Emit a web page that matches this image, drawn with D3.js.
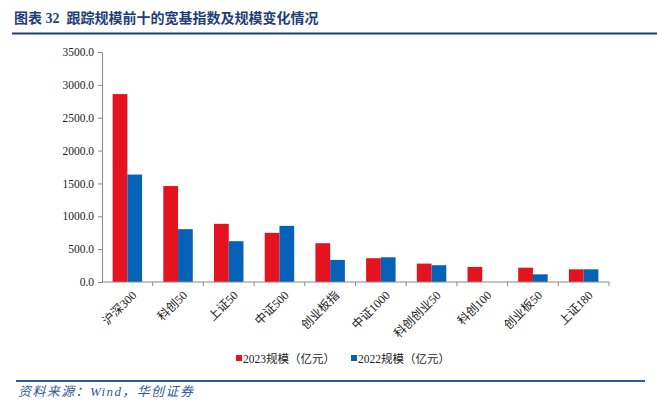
<html>

<head>
    <meta charset="utf-8" />
    <script src="https://cdn.jsdelivr.net/npm/d3@7"></script>
</head>

<body style="margin:0;background:#fff">
    <script>
        var categories = ['沪深300', '科创50', '上证50', '中证500', '创业板指', '中证1000', '科创创业50', '科创100', '创业板50', '上证180'];
        var values2023 = [2860, 1460, 885, 748, 590, 362, 280, 229, 218, 193];
        var values2022 = [1635, 804, 621, 854, 336, 376, 255, 0, 117, 193];
        var yTicks = [0, 500, 1000, 1500, 2000, 2500, 3000, 3500];
        var seriesNames = ['2023规模（亿元）', '2022规模（亿元）'];
        var colors = ['#e5131f', '#0562b8'];

        var width = 657;
        var height = 400;
        var plot = { left: 102, right: 609, top: 52, bottom: 282 };
        var serif = '"Liberation Serif", "Noto Sans CJK SC", serif';

        var svg = d3.select('body')
            .append('svg')
            .attr('width', width)
            .attr('height', height)
            .style('background', '#fff');

        // title + rules
        svg.append('text')
            .text('图表 32  跟踪规模前十的宽基指数及规模变化情况')
            .attr('x', 14)
            .attr('y', 23)
            .attr('font-size', 14)
            .attr('font-weight', 'bold')
            .attr('font-family', serif)
            .style('white-space', 'pre')
            .attr('fill', '#1f3e78');
        svg.append('line')
            .attr('x1', 12).attr('x2', 657)
            .attr('y1', 33.5).attr('y2', 33.5)
            .attr('stroke', '#1f3e78')
            .attr('stroke-width', 2);
        svg.append('line')
            .attr('x1', 16).attr('x2', 645)
            .attr('y1', 381).attr('y2', 381)
            .attr('stroke', '#2f5b96')
            .attr('stroke-width', 2);
        svg.append('text')
            .text('资料来源：Wind，华创证券')
            .attr('x', 18)
            .attr('y', 396)
            .attr('font-size', 13)
            .attr('letter-spacing', 1.4)
            .attr('font-style', 'italic')
            .attr('font-family', serif)
            .attr('fill', '#2f5b96');

        var x0 = d3.scaleBand()
            .domain(categories)
            .range([plot.left, plot.right]);
        var x1 = d3.scaleBand()
            .domain([0, 1])
            .range([0, x0.bandwidth()])
            .paddingOuter(0.72);
        var y = d3.scaleLinear()
            .domain([0, 3500])
            .range([plot.bottom, plot.top]);

        // bars
        var groups = svg.selectAll('g.cat')
            .data(categories)
            .enter()
            .append('g')
            .attr('class', 'cat')
            .attr('transform', function (d) {
                return 'translate(' + x0(d) + ',0)';
            });
        groups.selectAll('rect')
            .data(function (d, i) {
                return [values2023[i], values2022[i]];
            })
            .enter()
            .append('rect')
            .attr('x', function (d, i) { return x1(i); })
            .attr('y', function (d) { return y(d); })
            .attr('width', x1.bandwidth())
            .attr('height', function (d) { return plot.bottom - y(d); })
            .attr('fill', function (d, i) { return colors[i]; });

        // y axis
        var yAxis = svg.append('g')
            .attr('transform', 'translate(' + plot.left + ',0)')
            .call(d3.axisLeft(y).tickValues(yTicks).tickSize(4).tickPadding(4)
                .tickFormat(d3.format('.1f')));
        yAxis.select('.domain').attr('stroke', '#888');
        yAxis.selectAll('.tick line').attr('stroke', '#888');
        yAxis.selectAll('text')
            .attr('font-size', 11.5)
            .attr('font-family', serif)
            .attr('fill', '#222');

        // x axis
        var xAxis = svg.append('g')
            .attr('transform', 'translate(0,' + plot.bottom + ')');
        xAxis.append('line')
            .attr('x1', plot.left).attr('x2', plot.right)
            .attr('stroke', '#888');
        xAxis.selectAll('line.tk')
            .data(categories)
            .enter()
            .append('line')
            .attr('class', 'tk')
            .attr('x1', function (d) { return x0(d) + x0.bandwidth(); })
            .attr('x2', function (d) { return x0(d) + x0.bandwidth(); })
            .attr('y1', 0).attr('y2', 4)
            .attr('stroke', '#888');
        xAxis.selectAll('text')
            .data(categories)
            .enter()
            .append('text')
            .text(function (d) { return d; })
            .attr('transform', function (d) {
                return 'translate(' + (x0(d) + x0.bandwidth() / 2 + 4) + ',8) rotate(-45)';
            })
            .attr('text-anchor', 'end')
            .attr('dy', '0.7em')
            .attr('font-size', 12)
            .attr('font-family', serif)
            .attr('fill', '#222');

        // legend
        var legend = svg.selectAll('g.legend')
            .data(seriesNames)
            .enter()
            .append('g')
            .attr('class', 'legend')
            .attr('transform', function (d, i) {
                return 'translate(' + (236 + i * 115) + ',359)';
            });
        legend.append('rect')
            .attr('y', -4)
            .attr('width', 6)
            .attr('height', 6)
            .attr('fill', function (d, i) { return colors[i]; });
        legend.append('text')
            .text(function (d) { return d; })
            .attr('x', 7)
            .attr('y', 4)
            .attr('font-size', 11.5)
            .attr('font-family', serif)
            .attr('fill', '#222');
    </script>
</body>

</html>
